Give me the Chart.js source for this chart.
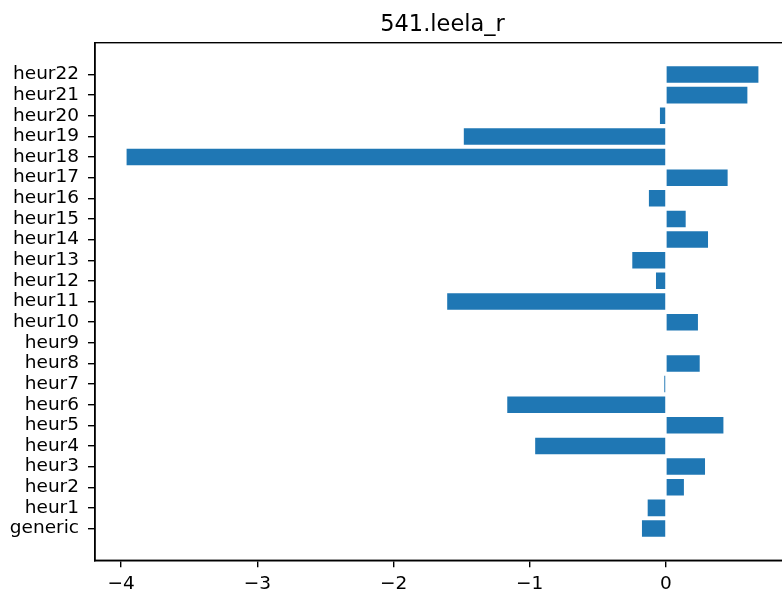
<!DOCTYPE html>
<html>
<head>
<meta charset="utf-8">
<script src="https://cdn.jsdelivr.net/npm/chart.js@4/dist/chart.umd.min.js"></script>
<style>
  html, body { margin: 0; padding: 0; background: #fff; overflow: hidden; }
  #wrap { width: 790px; height: 596px; }
</style>
</head>
<body>
<div id="wrap"><canvas id="chart" width="790" height="596"></canvas></div>
<script>
// Heuristic labels, bottom to top
const categories = ['generic', 'heur1', 'heur2', 'heur3', 'heur4', 'heur5', 'heur6', 'heur7',
  'heur8', 'heur9', 'heur10', 'heur11', 'heur12', 'heur13', 'heur14', 'heur15', 'heur16',
  'heur17', 'heur18', 'heur19', 'heur20', 'heur21', 'heur22'];
// Value per heuristic
const values = [-0.176, -0.134, 0.132, 0.287, -0.960, 0.422, -1.165, -0.012,
  0.248, 0, 0.235, -1.606, -0.073, -0.247, 0.309, 0.145, -0.125,
  0.453, -3.960, -1.484, -0.044, 0.598, 0.679];
const xTicks = [-4, -3, -2, -1, 0];
const chartTitle = '541.leela_r';

const FONT = 'DejaVu Sans';

// Full rectangular frame around the plot area
const framePlugin = {
  id: 'frame',
  afterDraw(chart) {
    const a = chart.chartArea, ctx = chart.ctx;
    ctx.save();
    ctx.strokeStyle = '#000';
    ctx.lineWidth = 1.4;
    ctx.strokeRect(a.left, a.top, a.right - a.left, a.bottom - a.top);
    ctx.restore();
  }
};

const lo = Math.min(...values), hi = Math.max(...values);
const pad = (hi - lo) * 0.05;

new Chart(document.getElementById('chart'), {
  type: 'bar',
  data: {
    datasets: [{
      data: values.map((v, i) => ({ x: v, y: i })),
      backgroundColor: '#1f77b4',
      borderWidth: 0,
      barPercentage: 0.8,
      categoryPercentage: 1.0
    }]
  },
  options: {
    indexAxis: 'y',
    responsive: false,
    animation: false,
    devicePixelRatio: 1,
    layout: { padding: 0 },
    plugins: {
      legend: { display: false },
      tooltip: { enabled: false },
      title: {
        display: true,
        text: chartTitle,
        fullSize: false,
        color: '#000',
        font: { family: FONT, size: 22.5, weight: 'normal', lineHeight: 1.2 },
        padding: { top: 11.5, bottom: 4.2 }
      }
    },
    scales: {
      x: {
        type: 'linear',
        offset: false,
        min: lo - pad,
        max: hi + pad,
        afterBuildTicks(scale) { scale.ticks = xTicks.map(v => ({ value: v })); },
        afterFit(scale) { scale.height = 35.7; },
        grid: { offset: false, drawOnChartArea: false, drawTicks: true, tickLength: 7, color: '#000', lineWidth: 1.4 },
        border: { display: true, color: '#000', width: 1.4 },
        ticks: {
          padding: 6,
          color: '#000',
          font: { family: FONT, size: 18.5 },
          callback: v => (v < 0 ? '\u2212' + Math.abs(v) : String(v))
        }
      },
      y: {
        type: 'linear',
        offset: false,
        min: -0.4 - 22.8 * 0.05,
        max: categories.length - 1 + 0.4 + 22.8 * 0.05,
        afterBuildTicks(scale) { scale.ticks = categories.map((_, i) => ({ value: i })); },
        afterFit(scale) { scale.width = 95; },
        grid: { offset: false, drawOnChartArea: false, drawTicks: true, tickLength: 7, color: '#000', lineWidth: 1.4 },
        border: { display: true, color: '#000', width: 1.4 },
        ticks: {
          autoSkip: false,
          padding: 9,
          color: '#000',
          font: { family: FONT, size: 18.5 },
          callback: v => categories[v] ?? ''
        }
      }
    }
  },
  plugins: [framePlugin]
});
</script>
</body>
</html>
